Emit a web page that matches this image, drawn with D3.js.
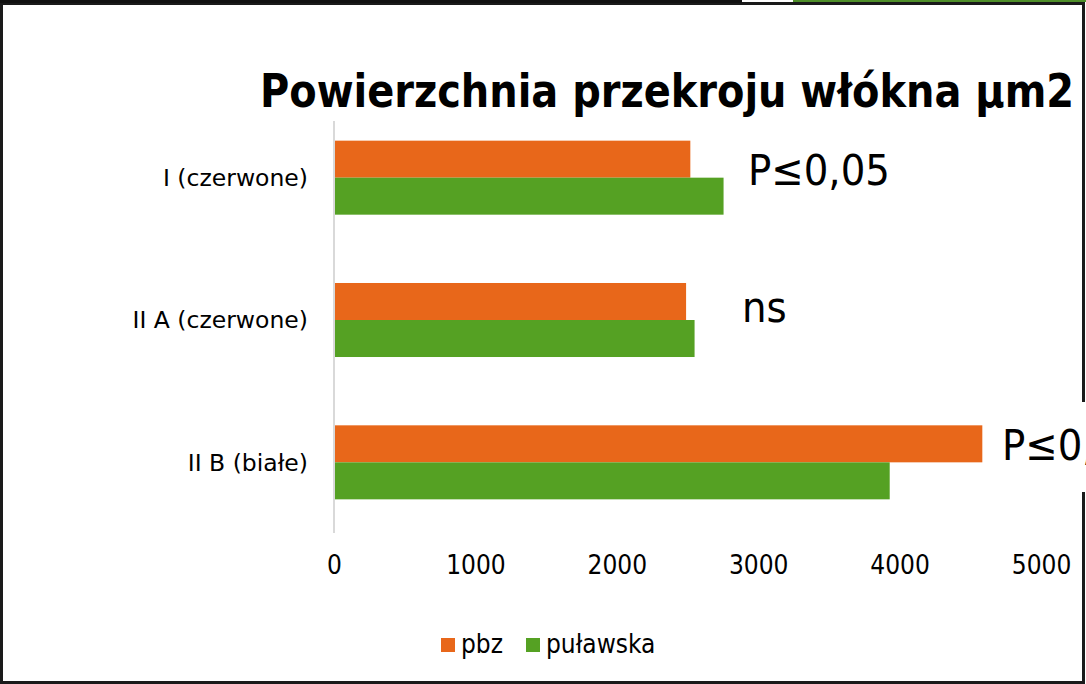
<!DOCTYPE html>
<html>
<head>
<meta charset="utf-8">
<script src="https://cdn.jsdelivr.net/npm/d3@7"></script>
<style>
  html, body { margin: 0; padding: 0; background: #fff; }
  svg { display: block; }
</style>
</head>
<body>
<svg id="chart" width="1086" height="684"></svg>
<script>
// ------------------------------------------------------------
// DATA
// ------------------------------------------------------------
const categories = ["I (czerwone)", "II A (czerwone)", "II B (białe)"];
const seriesNames = ["pbz", "puławska"];
const pbzValues = [2520, 2490, 4585];
const pulawskaValues = [2755, 2550, 3930];
const xTicks = [0, 1000, 2000, 3000, 4000, 5000];
const notes = ["P≤0,05", "ns", "P≤0,05"];

const colors = { "pbz": "#E8671A", "puławska": "#55A123" };
const FONT = "DejaVu Sans Condensed, DejaVu Sans, Arial";
const FONT_WIDE = "DejaVu Sans, Arial";

const rows = categories.map((c, i) => ({
  cat: c,
  values: [
    { key: "pbz", value: pbzValues[i] },
    { key: "puławska", value: pulawskaValues[i] }
  ],
  note: notes[i]
}));

const svg = d3.select("#chart");

// ------------------------------------------------------------
// FRAME
// ------------------------------------------------------------
svg.append("rect")
  .attr("x", 1.5).attr("y", 3.5).attr("width", 1082).attr("height", 679)
  .attr("fill", "#fff").attr("stroke", "#1a1a1a").attr("stroke-width", 3);
svg.append("rect").attr("x", 0).attr("y", 0).attr("width", 742).attr("height", 3).attr("fill", "#111");
svg.append("rect").attr("x", 793).attr("y", 0).attr("width", 293).attr("height", 2).attr("fill", "#4f8f2a");

// ------------------------------------------------------------
// SCALES
// ------------------------------------------------------------
const x = d3.scaleLinear().domain([0, 5000]).range([334, 1041]);

const y = d3.scaleBand()
  .domain(categories).range([106.5, 533.5])
  .paddingInner(0.48).paddingOuter(0.24);

const ySub = d3.scaleBand()
  .domain(seriesNames).range([0, y.bandwidth()]);

// ------------------------------------------------------------
// TITLE
// ------------------------------------------------------------
svg.append("text")
  .attr("x", 260).attr("y", 107)
  .attr("textLength", 814).attr("lengthAdjust", "spacingAndGlyphs")
  .style("font-family", FONT).style("font-weight", "bold")
  .style("font-size", "46px").style("fill", "#000")
  .text("Powierzchnia przekroju włókna μm2");

// ------------------------------------------------------------
// BARS
// ------------------------------------------------------------
const g = svg.selectAll("g.row").data(rows).join("g")
  .attr("class", "row")
  .attr("transform", d => `translate(0, ${y(d.cat)})`);

g.selectAll("rect").data(d => d.values).join("rect")
  .attr("x", x(0))
  .attr("y", d => ySub(d.key))
  .attr("width", d => x(d.value) - x(0))
  .attr("height", ySub.bandwidth())
  .attr("fill", d => colors[d.key]);

// vertical category axis line
svg.append("line")
  .attr("x1", x(0)).attr("x2", x(0)).attr("y1", 121).attr("y2", 533)
  .attr("stroke", "#d9d9d9").attr("stroke-width", 2);

// category labels
const yAxis = svg.append("g")
  .attr("transform", `translate(${x(0) - 26}, 0)`)
  .call(d3.axisLeft(y).tickSize(0).tickPadding(0));
yAxis.select(".domain").remove();
yAxis.selectAll("text")
  .attr("dy", "0.35em")
  .style("font-family", FONT_WIDE).style("font-size", "23.5px").style("fill", "#000");

// x axis labels
const xAxis = svg.append("g")
  .attr("transform", "translate(0, 556)")
  .call(d3.axisBottom(x).tickValues(xTicks).tickSize(0).tickPadding(0).tickFormat(d3.format("d")));
xAxis.select(".domain").remove();
xAxis.selectAll("text")
  .attr("dy", "0.71em")
  .style("font-family", FONT).style("font-size", "26px").style("fill", "#000");

// ------------------------------------------------------------
// SIGNIFICANCE NOTES
// ------------------------------------------------------------
const noteX = [748, 742, 1002];
const noteY = [185, 322, 460];
rows.forEach((d, i) => {
  if (i === 2) {
    // text box covering the frame edge
    svg.append("rect").attr("x", 990).attr("y", 402).attr("width", 96).attr("height", 90).attr("fill", "#fff");
  }
  svg.append("text")
    .attr("x", noteX[i]).attr("y", noteY[i])
    .style("font-family", FONT).style("font-size", "43px").style("fill", "#000")
    .text(d.note);
});

// ------------------------------------------------------------
// LEGEND
// ------------------------------------------------------------
const legendX = [441, 526];
const legend = svg.selectAll("g.legend").data(seriesNames).join("g")
  .attr("class", "legend")
  .attr("transform", (d, i) => `translate(${legendX[i]}, 638)`);
legend.append("rect")
  .attr("width", 14).attr("height", 14)
  .attr("fill", d => colors[d]);
legend.append("text")
  .attr("x", 20).attr("y", 15)
  .style("font-family", FONT).style("font-size", "26px").style("fill", "#000")
  .text(d => d);
</script>
</body>
</html>
